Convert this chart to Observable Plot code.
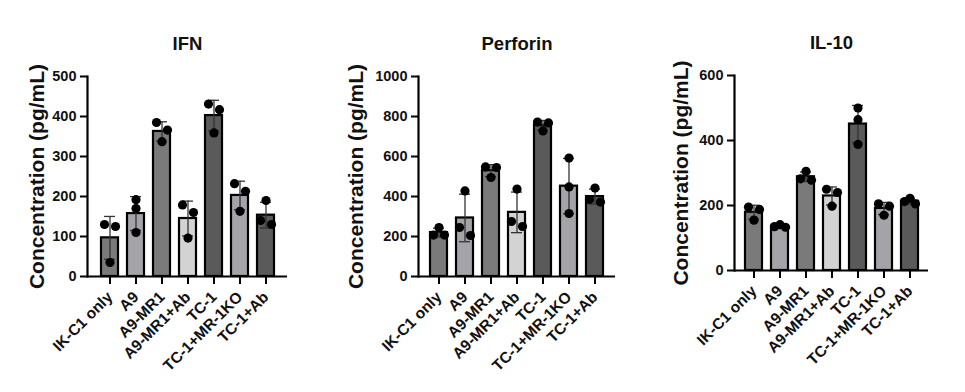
<!DOCTYPE html>
<html><head><meta charset="utf-8">
<script src="https://cdn.jsdelivr.net/npm/d3@7"></script>
<script src="https://cdn.jsdelivr.net/npm/@observablehq/plot@0.6"></script>
<style>
body{margin:0;background:#fff;}
#wrap{position:relative;width:965px;height:392px;overflow:hidden;background:#fff;}
.panel{position:absolute;top:0;}
</style></head><body><div id="wrap"></div>
<script>
// ---- data ----
const groups = ["IK-C1 only", "A9", "A9-MR1", "A9-MR1+Ab", "TC-1", "TC-1+MR-1KO", "TC-1+Ab"];
const titles = ["IFN", "Perforin", "IL-10"];
const yLabel = "Concentration (pg/mL)";
// individual replicate values (3 per group)
const ifnValues = [[130,125,35],[192,170,110],[385,366,337],[179,160,96],[431,417,359],[232,213,163],[190,140,130]];
const perforinValues = [[245,207,207],[428,245,205],[548,545,495],[437,275,250],[772,768,728],[592,448,315],[442,385,372]];
const il10Values = [[195,188,155],[141,135,133],[305,282,278],[250,240,198],[500,464,388],[205,198,170],[222,212,205]];
const ifnTicks = [0,100,200,300,400,500];
const perforinTicks = [0,200,400,600,800,1000];
const il10Ticks = [0,200,400,600];
const barFills = ["#7a7a7a","#a3a3a8","#7a7a7a","#d3d3d3","#5a5a5a","#a3a3a8","#5a5a5a"];

const layouts = [
  {left: 0,   width: 320, marginLeft: 87, marginRight: 33, marginTop: 76, marginBottom: 116, labelDx: -50},
  {left: 320, width: 320, marginLeft: 98, marginRight: 25, marginTop: 76, marginBottom: 116, labelDx: -62},
  {left: 640, width: 325, marginLeft: 94, marginRight: 37, marginTop: 75, marginBottom: 122, labelDx: -53}
];
const FONT = "'Liberation Sans', Arial, Helvetica, sans-serif";

function panel(title, values, ticks, L) {
  const ymax = ticks[ticks.length - 1];
  const innerH = 392 - L.marginTop - L.marginBottom;
  const k = innerH / ymax;
  const summary = groups.map((g, i) => ({
    group: g, fill: barFills[i],
    mean: d3.mean(values[i]), sd: d3.deviation(values[i])
  }));
  // simple swarm: clusters of overlapping points spread left/right
  const pts = [];
  groups.forEach((g, i) => {
    const vs = values[i].slice().sort((a, b) => b - a);
    const thr = 8.5;
    let chains = [[vs[0]]];
    for (let j = 1; j < vs.length; j++) {
      if ((vs[j - 1] - vs[j]) * k < thr) chains[chains.length - 1].push(vs[j]);
      else chains.push([vs[j]]);
    }
    for (const c of chains) {
      let offs;
      if (c.length === 1) offs = [0];
      else if (c.length === 2) offs = [-1, 1];
      else offs = (c[0] - c[1]) <= (c[1] - c[2]) ? [-1, 1, 0] : [0, -1, 1];
      c.forEach((v, j) => pts.push({group: g, value: v, off: offs[j]}));
    }
  });
  const dotMark = (o) => Plot.dot(pts.filter(p => p.off === o), {x: "group", y: "value", r: 4.6, fill: "#000", stroke: "none", dx: o * 5.5});
  return Plot.plot({
    width: L.width, height: 392,
    marginLeft: L.marginLeft, marginRight: L.marginRight, marginTop: L.marginTop, marginBottom: L.marginBottom,
    style: {fontFamily: FONT, background: "white", color: "#111", overflow: "visible"},
    x: {domain: groups, paddingInner: 0.36, paddingOuter: 0.39, label: null},
    y: {domain: [0, ymax], label: null},
    color: {type: "identity"},
    marks: [
      Plot.barY(summary, {x: "group", y: "mean", fill: "fill", stroke: "#000", strokeWidth: 2.2}),
      Plot.ruleX(summary, {x: "group", y1: d => d.mean - d.sd, y2: d => d.mean + d.sd, stroke: "#333", strokeWidth: 1.3}),
      Plot.tickY(summary, {x: "group", y: d => d.mean + d.sd, stroke: "#333", strokeWidth: 1.3, insetLeft: 3, insetRight: 3}),
      Plot.tickY(summary, {x: "group", y: d => d.mean - d.sd, stroke: "#333", strokeWidth: 1.3, insetLeft: 3, insetRight: 3}),
      dotMark(-1), dotMark(0), dotMark(1),
      Plot.ruleY([0], {stroke: "#000", strokeWidth: 2.2}),
      Plot.frame({anchor: "left", stroke: "#000", strokeWidth: 2.2}),
      Plot.axisY({ticks, tickSize: 7, tickPadding: 4, fontSize: 14.5, fontWeight: "bold", stroke: "#000", strokeWidth: 2, label: null, tickFormat: d => String(d)}),
      Plot.axisX({tickSize: 8, tickPadding: 10, tickRotate: -45, textAnchor: "end", fontSize: 15.5, fontWeight: "bold", stroke: "#000", strokeWidth: 2, label: null}),
      Plot.text([yLabel], {text: d => d, frameAnchor: "left", rotate: -90, dx: L.labelDx, textAnchor: "middle", lineAnchor: "middle", fontSize: 21, fontWeight: "bold", fill: "#111"}),
      Plot.text([title], {text: d => d, frameAnchor: "top", dy: -32, textAnchor: "middle", lineAnchor: "middle", fontSize: 18.5, fontWeight: "bold", fill: "#111"})
    ]
  });
}

const wrap = document.getElementById("wrap");
const allValues = [ifnValues, perforinValues, il10Values];
const allTicks = [ifnTicks, perforinTicks, il10Ticks];
titles.forEach((t, i) => {
  const svg = panel(t, allValues[i], allTicks[i], layouts[i]);
  const div = document.createElement("div");
  div.className = "panel";
  div.style.left = layouts[i].left + "px";
  div.appendChild(svg);
  wrap.appendChild(div);
});
</script></body></html>
